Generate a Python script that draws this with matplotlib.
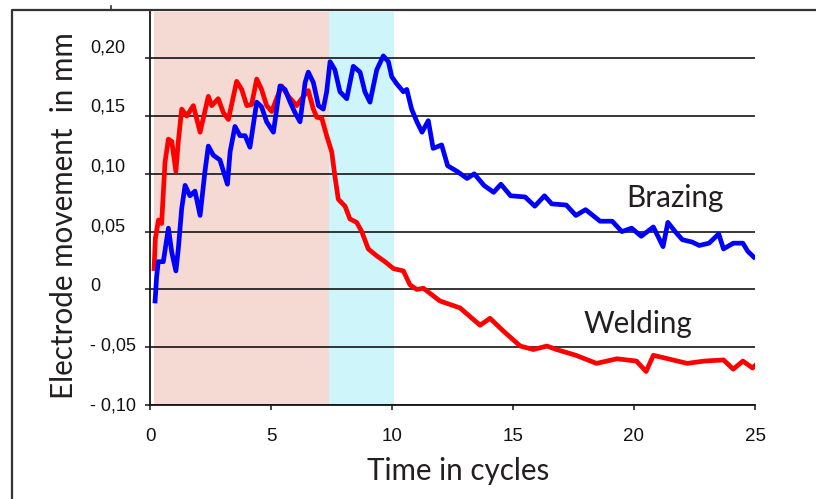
import matplotlib
matplotlib.use("Agg")
import matplotlib.pyplot as plt
from matplotlib.transforms import ScaledTranslation
from matplotlib.lines import Line2D

# ---------------- data ----------------
weld_x = [0.17, 0.22, 0.35, 0.48, 0.62, 0.76, 0.90, 1.07, 1.17, 1.31, 1.52, 1.79,
          2.07, 2.41, 2.55, 2.82, 3.03, 3.24, 3.58, 3.79, 4.00, 4.20, 4.41, 4.61,
          4.82, 5.03, 5.23, 5.44, 5.72, 6.06, 6.34, 6.54, 6.75, 6.89, 7.10, 7.30,
          7.51, 7.64, 7.78, 8.06, 8.26, 8.54, 8.75, 9.02, 9.37, 9.71, 10.06, 10.47,
          10.74, 11.02, 11.30, 11.98, 12.81, 13.64, 14.05, 14.60, 15.30, 15.84,
          16.40, 16.80, 17.60, 18.45, 19.30, 20.10, 20.50, 20.80, 21.40, 22.20,
          22.90, 23.70, 24.10, 24.50, 24.90, 25.00]
weld_y = [0.018, 0.044, 0.060, 0.057, 0.110, 0.130, 0.128, 0.102, 0.128, 0.156, 0.150, 0.159,
          0.136, 0.167, 0.159, 0.165, 0.153, 0.147, 0.180, 0.173, 0.159, 0.160, 0.182, 0.173,
          0.159, 0.154, 0.165, 0.176, 0.167, 0.159, 0.167, 0.172, 0.156, 0.149, 0.148, 0.133,
          0.119, 0.098, 0.078, 0.072, 0.061, 0.058, 0.050, 0.035, 0.029, 0.024, 0.018, 0.016,
          0.004, 0.000, 0.001, -0.010, -0.016, -0.031, -0.025, -0.036, -0.049, -0.052,
          -0.049, -0.052, -0.057, -0.064, -0.060, -0.062, -0.071, -0.057, -0.060, -0.064,
          -0.062, -0.061, -0.069, -0.062, -0.068, -0.066]

braz_x = [0.21, 0.27, 0.34, 0.55, 0.76, 0.90, 1.07, 1.17, 1.31, 1.45, 1.65, 1.86,
          2.07, 2.27, 2.41, 2.62, 2.89, 3.20, 3.31, 3.51, 3.72, 3.93, 4.13, 4.41,
          4.61, 4.82, 5.10, 5.37, 5.58, 5.79, 5.99, 6.20, 6.41, 6.54, 6.75, 6.96,
          7.16, 7.30, 7.44, 7.64, 7.85, 8.13, 8.40, 8.68, 8.88, 9.09, 9.37, 9.64,
          9.85, 9.99, 10.19, 10.47, 10.61, 10.81, 11.03, 11.24, 11.50, 11.70, 12.05,
          12.30, 12.70, 13.10, 13.40, 13.80, 14.20, 14.50, 14.90, 15.50, 15.90, 16.30,
          16.60, 17.20, 17.60, 18.00, 18.60, 19.10, 19.50, 19.90, 20.30, 20.80, 21.20,
          21.40, 21.70, 22.00, 22.40, 22.70, 23.10, 23.50, 23.70, 24.10, 24.50, 24.70, 24.95]
braz_y = [-0.010, 0.010, 0.024, 0.024, 0.053, 0.032, 0.016, 0.035, 0.070, 0.090, 0.081, 0.085,
          0.064, 0.102, 0.124, 0.116, 0.112, 0.091, 0.119, 0.141, 0.133, 0.133, 0.123, 0.162,
          0.158, 0.145, 0.136, 0.176, 0.173, 0.162, 0.153, 0.145, 0.179, 0.188, 0.179, 0.159,
          0.156, 0.171, 0.197, 0.190, 0.171, 0.165, 0.193, 0.188, 0.171, 0.162, 0.190, 0.202,
          0.197, 0.184, 0.178, 0.171, 0.173, 0.156, 0.145, 0.136, 0.146, 0.122, 0.125,
          0.107, 0.102, 0.096, 0.100, 0.090, 0.084, 0.091, 0.081, 0.080, 0.072, 0.081,
          0.074, 0.073, 0.064, 0.069, 0.059, 0.059, 0.050, 0.053, 0.046, 0.054, 0.037,
          0.058, 0.050, 0.043, 0.041, 0.038, 0.040, 0.048, 0.035, 0.040, 0.040, 0.033, 0.028]

x_ticks = [0, 5, 10, 15, 20, 25]
x_ticklabels = ["0", "5", "10", "15", "20", "25"]
y_ticks = [-0.10, -0.05, 0.0, 0.05, 0.10, 0.15, 0.20]
y_ticklabels = ["- 0,10", "- 0,05", "0", "0,05", "0,10", "0,15", "0,20"]

heat_span = (0.16, 7.4)
hold_span = (7.4, 10.1)

# ---------------- figure ----------------
W, H = 816, 499
fig = plt.figure(figsize=(W / 100, H / 100), dpi=100)
fig.patch.set_facecolor("white")

def fx(px):
    return px / W

def fy(py):
    return 1 - py / H

ax = fig.add_axes([fx(150), fy(405), (755 - 150) / W, (405 - 12) / H])
ax.set_xlim(0, 25)
ax.set_ylim(-0.10, 0.24)

ax.axvspan(*heat_span, color="#F4DAD2", lw=0, zorder=0)
ax.axvspan(*hold_span, color="#CDF5FA", lw=0, zorder=0)

ax.set_yticks(y_ticks)
ax.set_yticklabels(y_ticklabels)
ax.set_xticks(x_ticks)
ax.set_xticklabels(x_ticklabels)

ax.grid(axis="y", color="#151515", lw=1.2, zorder=1)
ax.set_axisbelow(True)

ax.plot(weld_x, weld_y, color="#FF0000", lw=3.4, zorder=3, solid_joinstyle="round")
ax.plot(braz_x, braz_y, color="#0000FF", lw=3.4, zorder=3, solid_joinstyle="round")

for s in ("top", "right"):
    ax.spines[s].set_visible(False)
for s in ("left", "bottom"):
    ax.spines[s].set_color("#151515")
    ax.spines[s].set_linewidth(1.3)

tick_font = "Liberation Sans"
ax.tick_params(axis="y", direction="out", length=3.6, width=1.1, color="#151515",
               pad=39.6, labelsize=13, labelcolor="#111111")
ax.tick_params(axis="x", direction="out", length=3.6, width=1.1, color="#151515",
               pad=13, labelsize=13.5, labelcolor="#111111")
for lab in ax.get_yticklabels():
    lab.set_horizontalalignment("left")
    lab.set_fontfamily(tick_font)
for lab in ax.get_xticklabels():
    lab.set_fontfamily(tick_font)

# tick labels of the y axis are spread slightly more than the gridlines
for i, lab in enumerate(ax.get_yticklabels()):
    off_px = 1 + 1.95 * i
    lab.set_transform(lab.get_transform() + ScaledTranslation(0, off_px / 100, fig.dpi_scale_trans))

# outer frame (left and top only)
frame = Line2D([fx(12), fx(12), 1.0], [0.0, fy(10), fy(10)], transform=fig.transFigure,
               color="#333333", lw=1.6)
fig.add_artist(frame)
fig.add_artist(Line2D([fx(111), fx(111)], [fy(6), fy(10)], transform=fig.transFigure,
                      color="#333333", lw=1.2))

label_font = "Lato"
txt_color = "#231F20"
ylab = fig.text(fx(73), fy(216), "Electrode movement  in mm", rotation=90,
                rotation_mode="anchor", ha="center", va="baseline",
                fontsize=20, family=label_font, color=txt_color)
xlab = fig.text(fx(458), fy(480), "Time in cycles", ha="center", va="baseline",
                fontsize=20, family=label_font, color=txt_color)
braz = fig.text(fx(626), fy(207), "Brazing", ha="left", va="baseline",
                fontsize=18, family=label_font, color=txt_color)
weld = fig.text(fx(584), fy(333), "Welding", ha="left", va="baseline",
                fontsize=18, family=label_font, color=txt_color)

r = fig.canvas.get_renderer()
def fit(t, target, vertical=False):
    bb = t.get_window_extent(r)
    size = bb.height if vertical else bb.width
    t.set_fontsize(t.get_fontsize() * target / size)

fit(ylab, 367, vertical=True)
fit(xlab, 183)
fit(braz, 97)
fit(weld, 109)

fig.savefig("out.png", dpi=100)
